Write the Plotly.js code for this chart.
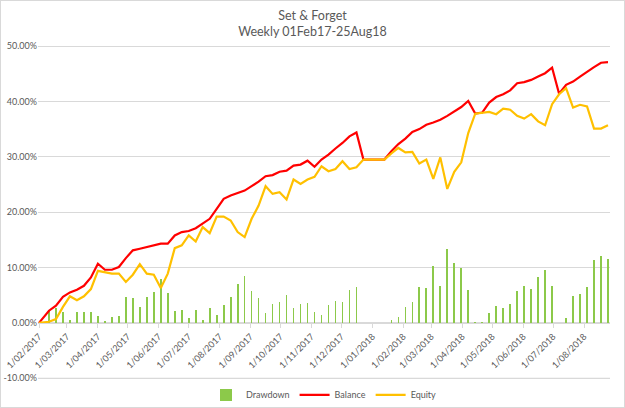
<!DOCTYPE html>
<html>
<head>
<meta charset="utf-8">
<script src="https://cdn.plot.ly/plotly-3.0.1.min.js"></script>
<style>
  html, body { margin: 0; padding: 0; background: #fff; overflow: hidden; }
  #wrap { position: relative; width: 625px; height: 408px; }
  #chart { width: 625px; height: 408px; }
  #frame { position: absolute; left: 0; top: 0; width: 623px; height: 406px;
           border: 1px solid #d9d9d9; pointer-events: none; }
</style>
</head>
<body>
<div id="wrap">
  <div id="chart"></div>
  <div id="frame"></div>
</div>
<script>
// Weekly closing dates (start of account, then every Saturday)
const weeks = [
  '2017-02-01',
  '2017-02-11','2017-02-18','2017-02-25','2017-03-04','2017-03-11','2017-03-18','2017-03-25',
  '2017-04-01','2017-04-08','2017-04-15','2017-04-22','2017-04-29','2017-05-06','2017-05-13',
  '2017-05-20','2017-05-27','2017-06-03','2017-06-10','2017-06-17','2017-06-24','2017-07-01',
  '2017-07-08','2017-07-15','2017-07-22','2017-07-29','2017-08-05','2017-08-12','2017-08-19',
  '2017-08-26','2017-09-02','2017-09-09','2017-09-16','2017-09-23','2017-09-30','2017-10-07',
  '2017-10-14','2017-10-21','2017-10-28','2017-11-04','2017-11-11','2017-11-18','2017-11-25',
  '2017-12-02','2017-12-09','2017-12-16','2017-12-23','2017-12-30','2018-01-06','2018-01-13',
  '2018-01-20','2018-01-27','2018-02-03','2018-02-10','2018-02-17','2018-02-24','2018-03-03',
  '2018-03-10','2018-03-17','2018-03-24','2018-03-31','2018-04-07','2018-04-14','2018-04-21',
  '2018-04-28','2018-05-05','2018-05-12','2018-05-19','2018-05-26','2018-06-02','2018-06-09',
  '2018-06-16','2018-06-23','2018-06-30','2018-07-07','2018-07-14','2018-07-21','2018-07-28',
  '2018-08-04','2018-08-11','2018-08-18','2018-08-25'
];

// Cumulative closed balance growth, %
const balance = [
  0, 2.2, 3.1, 4.7, 5.5, 6.0, 6.7, 8.2, 10.7, 9.6, 9.6, 10.1, 11.7, 13.1, 13.4, 13.7,
  14.1, 14.3, 14.3, 15.8, 16.4, 16.6, 17.1, 17.9, 18.8, 20.6, 22.4, 23.0, 23.4, 23.9,
  24.7, 25.5, 26.5, 26.7, 27.3, 27.5, 28.4, 28.6, 29.3, 28.2, 29.5, 30.4, 31.5, 32.5,
  33.7, 34.4, 29.5, 29.5, 29.5, 29.5, 31.0, 32.3, 33.3, 34.5, 35.0, 35.8, 36.2, 36.7,
  37.4, 38.2, 39.0, 40.1, 37.8, 38.0, 39.8, 40.8, 41.3, 42.0, 43.3, 43.5, 43.9, 44.5,
  45.1, 46.1, 41.4, 43.0, 43.6, 44.5, 45.4, 46.2, 47.0, 47.1
];

// Floating equity growth, %
const equity = [
  0, 0.2, 0.7, 2.9, 4.8, 4.1, 4.8, 6.1, 9.4, 9.2, 8.9, 8.9, 7.4, 8.7, 10.6, 8.9,
  8.7, 6.3, 8.9, 13.5, 14.0, 15.8, 14.7, 17.3, 16.2, 19.2, 19.2, 18.5, 16.4, 15.5,
  18.8, 21.2, 24.7, 23.3, 23.6, 22.3, 25.9, 25.1, 25.9, 26.4, 28.3, 27.4, 27.8, 29.2,
  27.8, 28.1, 29.5, 29.5, 29.5, 29.5, 30.6, 31.6, 30.8, 30.9, 28.8, 29.5, 26.0, 29.9,
  24.2, 27.3, 29.0, 34.3, 37.8, 37.9, 38.1, 37.7, 38.7, 38.5, 37.4, 36.9, 37.7, 36.4,
  35.7, 39.5, 41.3, 42.4, 38.9, 39.4, 39.1, 35.1, 35.1, 35.7
];

// Weekly open drawdown, %
const drawdown = [
  0, 2.1, 2.7, 1.9, 0.6, 1.9, 1.9, 2.0, 1.3, 0.3, 1.0, 1.3, 4.6, 4.5, 2.9, 4.7,
  5.5, 8.0, 5.4, 2.2, 2.4, 0.9, 2.4, 0.6, 2.6, 1.5, 3.2, 4.6, 7.0, 8.4,
  5.7, 4.5, 1.7, 3.5, 3.7, 5.1, 2.6, 3.5, 3.6, 1.9, 1.4, 3.2, 4.0, 3.7,
  6.0, 6.4, 0, 0, 0, 0, 0.6, 1.1, 2.9, 3.8, 6.4, 6.3, 10.3, 6.7,
  13.3, 10.8, 9.9, 6.0, 0.2, 0.2, 1.7, 3.1, 2.6, 3.5, 5.8, 6.7, 6.2, 8.2,
  9.6, 6.7, 0.05, 0.8, 4.9, 5.3, 6.5, 11.3, 12.0, 11.6
];

// Monthly tick positions on the date axis
const monthTicks = [
  '2017-02-01','2017-03-01','2017-04-01','2017-05-01','2017-06-01','2017-07-01',
  '2017-08-01','2017-09-01','2017-10-01','2017-11-01','2017-12-01','2018-01-01',
  '2018-02-01','2018-03-01','2018-04-01','2018-05-01','2018-06-01','2018-07-01',
  '2018-08-01'
];

// Value-axis gridline levels and their labels
const yTicks = [-10, 0, 10, 20, 30, 40, 50];
const yLabels = ['-10.00%', '0.00%', '10.00%', '20.00%', '30.00%', '40.00%', '50.00%'];

const FONT = 'Lato, Carlito, "Open Sans", sans-serif';
const DAY = 86400000;
const Y_RANGE = [-10.5, 50.2];

const traces = [
  {
    type: 'bar', name: 'Drawdown', x: weeks, y: drawdown,
    width: 1.7 * DAY,
    marker: { color: '#8cc94a', line: { width: 0 } },
    hoverinfo: 'x+y'
  },
  {
    type: 'scatter', mode: 'lines', name: 'Balance', x: weeks, y: balance,
    line: { color: '#ff0000', width: 2.2 }
  },
  {
    type: 'scatter', mode: 'lines', name: 'Equity', x: weeks, y: equity,
    line: { color: '#ffc000', width: 2.2 }
  }
];

const layout = {
  width: 625, height: 408,
  margin: { l: 38, r: 15, t: 45, b: 27, autoexpand: false },
  paper_bgcolor: '#ffffff', plot_bgcolor: '#ffffff',
  font: { family: FONT, color: '#595959', size: 9 },
  title: {
    text: 'Set &amp; Forget<br>Weekly 01Feb17-25Aug18',
    font: { family: FONT, size: 12.5, color: '#595959' },
    x: 0.5, xanchor: 'center', xref: 'container',
    y: 0.952, yref: 'container', yanchor: 'middle'
  },
  showlegend: true,
  legend: {
    orientation: 'h', x: 0.5, xanchor: 'center',
    yref: 'container', y: 0.032, yanchor: 'middle',
    bgcolor: 'rgba(0,0,0,0)', borderwidth: 0,
    font: { family: FONT, size: 9, color: '#595959' },
    itemwidth: 30, tracegroupgap: 0
  },
  xaxis: {
    type: 'date',
    range: ['2017-01-31', '2018-08-27'],
    anchor: 'free', position: (0 - Y_RANGE[0]) / (Y_RANGE[1] - Y_RANGE[0]),
    automargin: false,
    showline: true, linecolor: '#d9d9d9', linewidth: 1,
    showgrid: false, zeroline: false,
    ticks: 'outside', ticklen: 4, tickcolor: '#d9d9d9',
    tickmode: 'array', tickvals: monthTicks,
    tickformat: '%-d/%m/%Y', tickangle: -45,
    tickfont: { family: FONT, size: 9, color: '#595959' }
  },
  yaxis: {
    range: Y_RANGE,
    tickmode: 'array', tickvals: yTicks, ticktext: yLabels,
    automargin: false,
    showgrid: true, gridcolor: '#d9d9d9', gridwidth: 1,
    zeroline: false, showline: false, ticks: '',
    tickfont: { family: FONT, size: 9, color: '#595959' }
  },
  // lowest gridline of the value axis, drawn explicitly
  shapes: [{
    type: 'line', layer: 'above',
    xref: 'paper', x0: 0, x1: 1,
    yref: 'y', y0: yTicks[0], y1: yTicks[0],
    line: { color: '#d9d9d9', width: 1 }
  }],
  bargap: 0
};

Plotly.newPlot('chart', traces, layout, { staticPlot: true, displayModeBar: false });
</script>
</body>
</html>
